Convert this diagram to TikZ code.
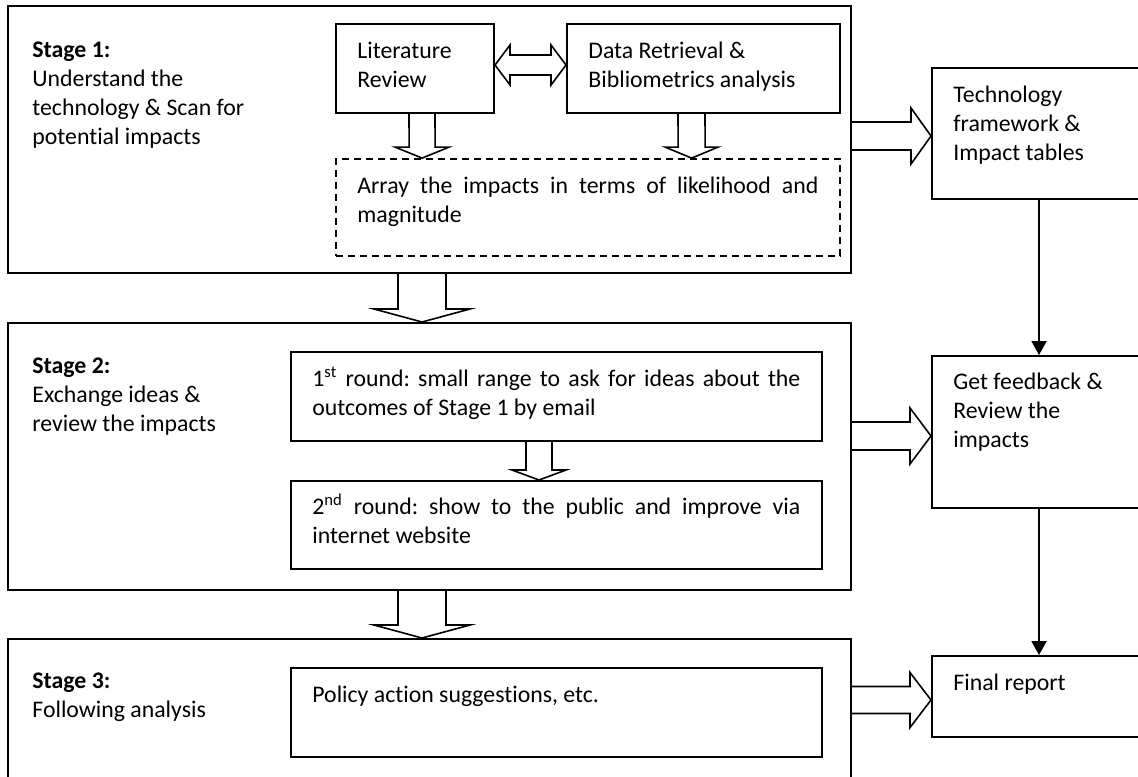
\documentclass[tikz,border=0pt]{standalone}
\usepackage{fontspec}
\setmainfont{Carlito}[Ligatures={NoCommon}]
\frenchspacing
\usetikzlibrary{fit,calc,arrows.meta}
\newcommand\vblk[5]{\draw[blk] ($(#1)+(-#3,0)$) -- ($(#2)+(-#3,-#5)$) -- ($(#2)+(-#4,-#5)$) -- (#2) -- ($(#2)+(#4,-#5)$) -- ($(#2)+(#3,-#5)$) -- ($(#1)+(#3,0)$);}
\newcommand\hblk[5]{\draw[blk] ($(#1)+(0,-#3)$) -- ($(#2)+(-#5,-#3)$) -- ($(#2)+(-#5,-#4)$) -- (#2) -- ($(#2)+(-#5,#4)$) -- ($(#2)+(-#5,#3)$) -- ($(#1)+(0,#3)$);}
\begin{document}
\frenchspacing
\begin{tikzpicture}[x=0.5pt,y=-0.5pt,
  box/.style={draw, line width=1pt, inner sep=0pt, fit={#1}},
  dbox/.style={draw, line width=0.9pt, inner sep=0pt, dash pattern=on 3.5pt off 2.5pt, fit={#1}},
  txt/.style={anchor=base west, inner sep=0pt, font=\fontsize{11.9}{14.5}\selectfont\frenchspacing},
  blk/.style={draw, line width=0.8pt, fill=white, line join=miter},
  thin/.style={draw, line width=1pt, -{Triangle[length=7pt,width=7.5pt]}}]
\useasboundingbox (0,0) rectangle (1138,776);
\clip (0,0) rectangle (1138,776);

% stage boxes
\node[box={(8,6)(851,273)}] (s1) {};
\node[box={(8,323)(851,590)}] (s2) {};
\node[box={(8,639)(851,790)}] (s3) {};
% inner boxes
\node[box={(336,24)(494,113)}] (lit) {};
\node[box={(567,24)(840,113)}] (data) {};
\node[dbox={(336,159)(840,256)}] (arr) {};
\node[box={(291,352)(822,441)}] (r1) {};
\node[box={(291,481)(822,569)}] (r2) {};
\node[box={(291,668)(822,757)}] (pol) {};
% right column
\node[box={(932,68)(1146,199)}] (tech) {};
\node[box={(932,356)(1146,508)}] (fb) {};
\node[box={(932,656)(1146,737)}] (fin) {};

% texts
\node[txt] (t1) at (32,57) {\parbox[t]{200pt}{\textbf{Stage 1:}\\Understand the\\technology \& Scan for\\potential impacts}};
\node[txt] (tlit) at (357,58) {\parbox[t]{70pt}{Literature\\Review}};
\node[txt] (tdata) at (588,58) {\parbox[t]{130pt}{Data Retrieval \&\\Bibliometrics analysis}};
\node[txt] (tarr) at (357,193) {\parbox[t]{230.5pt}{\makebox[230.5pt][s]{Array the impacts in terms of likelihood and}\\magnitude}};
\node[txt] (ttech) at (953,102) {\parbox[t]{90pt}{Technology\\framework \&\\Impact tables}};
\node[txt] (t2) at (32,373) {\parbox[t]{200pt}{\textbf{Stage 2:}\\Exchange ideas \&\\review the impacts}};
\node[txt] (tr1) at (312,386) {\parbox[t]{244pt}{\makebox[244pt][s]{1\textsuperscript{st} round: small range to ask for ideas about the}\\outcomes of Stage 1 by email}};
\node[txt] (tr2) at (312,514) {\parbox[t]{244pt}{\makebox[244pt][s]{2\textsuperscript{nd} round: show to the public and improve via}\\internet website}};
\node[txt] (tfb) at (953,389) {\parbox[t]{90pt}{Get feedback \&\\Review the\\impacts}};
\node[txt] (t3) at (32,688) {\parbox[t]{200pt}{\textbf{Stage 3:}\\Following analysis}};
\node[txt] (tpol) at (312,702) {Policy action suggestions, etc.};
\node[txt] (tfin) at (953,690) {Final report};

% double arrow between literature and data
\coordinate (dL) at ($(lit.north east)+(0,42)$);
\coordinate (dR) at ($(data.north west)+(0,42)$);
\draw[blk] (dL) -- ($(dL)+(15,-20)$) -- ($(dL)+(15,-10)$) -- ($(dR)+(-15,-10)$) -- ($(dR)+(-15,-20)$) -- (dR) -- ($(dR)+(-15,20)$) -- ($(dR)+(-15,10)$) -- ($(dL)+(15,10)$) -- ($(dL)+(15,20)$) -- cycle;

% down block arrows
\coordinate (a1s) at ($(lit.south west)+(87,0)$);
\coordinate (a1e) at ($(arr.north west)+(87,0)$);
\vblk{a1s}{a1e}{13}{27}{11}
\coordinate (a2s) at ($(data.south west)+(125.5,0)$);
\coordinate (a2e) at ($(arr.north west)+(356.5,0)$);
\vblk{a2s}{a2e}{13.5}{26.5}{11}
\coordinate (a3s) at ($(s1.south west)+(415,0)$);
\coordinate (a3e) at ($(s2.north west)+(415,0)$);
\vblk{a3s}{a3e}{24}{48}{13}
\coordinate (a4s) at ($(r1.south west)+(249,0)$);
\coordinate (a4e) at ($(r2.north west)+(249,0)$);
\vblk{a4s}{a4e}{13}{27}{10}
\coordinate (a5s) at ($(s2.south west)+(415,0)$);
\coordinate (a5e) at ($(s3.north west)+(415,0)$);
\vblk{a5s}{a5e}{24}{48}{13}

% right block arrows
\coordinate (b1s) at ($(s1.north east)+(0,131)$);
\coordinate (b1e) at ($(tech.north west)+(0,69)$);
\hblk{b1s}{b1e}{14}{28}{20}
\coordinate (b2s) at ($(s2.north east)+(0,114)$);
\coordinate (b2e) at ($(fb.north west)+(0,81)$);
\hblk{b2s}{b2e}{14}{28}{21}
\coordinate (b3s) at ($(s3.north east)+(0,62)$);
\coordinate (b3e) at ($(fin.north west)+(0,45)$);
\hblk{b3s}{b3e}{13.5}{27.5}{21}

% thin arrows
\draw[thin] (tech.south) -- (fb.north);
\draw[thin] (fb.south) -- (fin.north);
\end{tikzpicture}
\end{document}
